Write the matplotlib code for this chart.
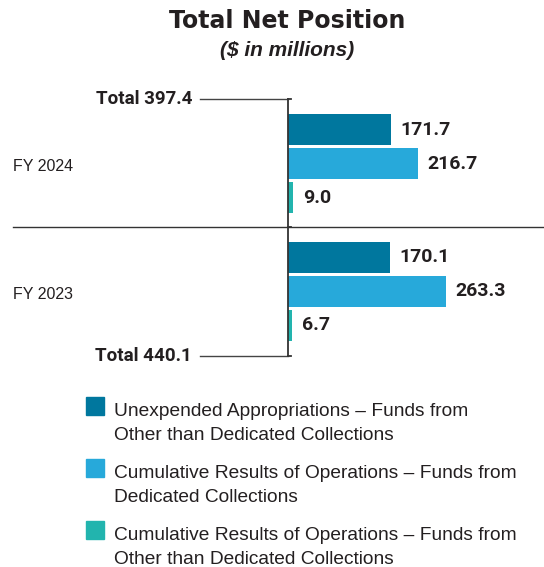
import matplotlib
matplotlib.use("Agg")
import matplotlib.pyplot as plt
from matplotlib.patches import Rectangle

# ── data ─────────────────────────────────────
years = ["FY 2024", "FY 2023"]
series_names = [
    "Unexpended Appropriations – Funds from\nOther than Dedicated Collections",
    "Cumulative Results of Operations – Funds from\nDedicated Collections",
    "Cumulative Results of Operations – Funds from\nOther than Dedicated Collections",
]
values_2024 = [171.7, 216.7, 9.0]
values_2023 = [170.1, 263.3, 6.7]
colors = ["#00779E", "#27A9DA", "#22B4AE"]

TXT = "#231F20"
W, H = 544, 567
plt.rcParams["font.family"] = ["Liberation Sans", "DejaVu Sans"]

fig = plt.figure(figsize=(W / 100, H / 100), dpi=100)

# axes placed so that the left spine is the vertical axis line
px_per_unit = 0.6
ax_left, ax_top, ax_bot = 288, 99, 356
ax = fig.add_axes([ax_left / W, 1 - ax_bot / H, (W - ax_left) / W, (ax_bot - ax_top) / H])
ax.set_xlim(0, (W - ax_left) / px_per_unit)

slot = 1.0
group_gap = 3.75
bar_h = 0.91
pad = 0.9

for g, vals in enumerate([values_2024, values_2023]):
    base = g * group_gap
    for i, v in enumerate(vals):
        y = base + i * slot
        ax.barh(y, v, height=bar_h, color=colors[i], left=0)
        ax.annotate(f"{v:.1f}", (v, y), xytext=(7, 0), textcoords="offset points",
                    va="center", ha="left", fontsize=14, fontweight="bold",
                    color=TXT, family=["Roboto", "DejaVu Sans"])

y_top = -pad
y_bot = group_gap + 2 + pad
ax.set_ylim(y_bot, y_top)
y_sep = (2 + group_gap) / 2

for s in ["top", "right", "bottom"]:
    ax.spines[s].set_visible(False)
ax.spines["left"].set_color("#333333")
ax.spines["left"].set_linewidth(1.3)
ax.set_xticks([])
ax.set_yticks([])
ax.patch.set_alpha(0)

# small ticks on the axis line
for yy in [y_top, y_sep, y_bot]:
    ax.plot([0, 5], [yy, yy], color="#333333", lw=1.3, clip_on=False)

# totals
totals = [sum(values_2024), sum(values_2023)]
line_left = -(ax_left - 200) / px_per_unit
for yy, tot in zip([y_top, y_bot], totals):
    ax.plot([line_left, 0], [yy, yy], color="#444444", lw=1.0, clip_on=False)
    ax.text(line_left - 8 / px_per_unit, yy, f"Total {tot:.1f}", ha="right", va="center",
            fontsize=13.5, fontweight="bold", color=TXT, family=["Roboto", "DejaVu Sans"])

# separator between years
ax.plot([-(ax_left - 13) / px_per_unit, (W - ax_left) / px_per_unit], [y_sep, y_sep],
        color="#333333", lw=1.0, clip_on=False)

# year labels
for g, yr in enumerate(years):
    ax.text(-(ax_left - 13) / px_per_unit, g * group_gap + 1.08, yr, ha="left", va="center",
            fontsize=11.5, color=TXT)

# title
fig.text(287 / W, 1 - 21 / H, "Total Net Position", ha="center", va="center",
         fontsize=17, fontweight="bold", color=TXT, family=["DejaVu Sans"])
fig.text(287 / W, 1 - 51 / H, "($ in millions)", ha="center", va="center",
         fontsize=15, fontstyle="italic", fontweight="bold", color=TXT)

# legend
sq = 18
for i, (name, c) in enumerate(zip(series_names, colors)):
    top = 397 + i * 62
    fig.patches.append(Rectangle((86 / W, 1 - (top + sq) / H), sq / W, sq / H,
                                 transform=fig.transFigure, color=c))
    for k, line in enumerate(name.split("\n")):
        fig.text(114 / W, 1 - (top + 19 + k * 24) / H, line, ha="left", va="baseline",
                 fontsize=13.8, color=TXT)

fig.savefig("out.png", dpi=100)
